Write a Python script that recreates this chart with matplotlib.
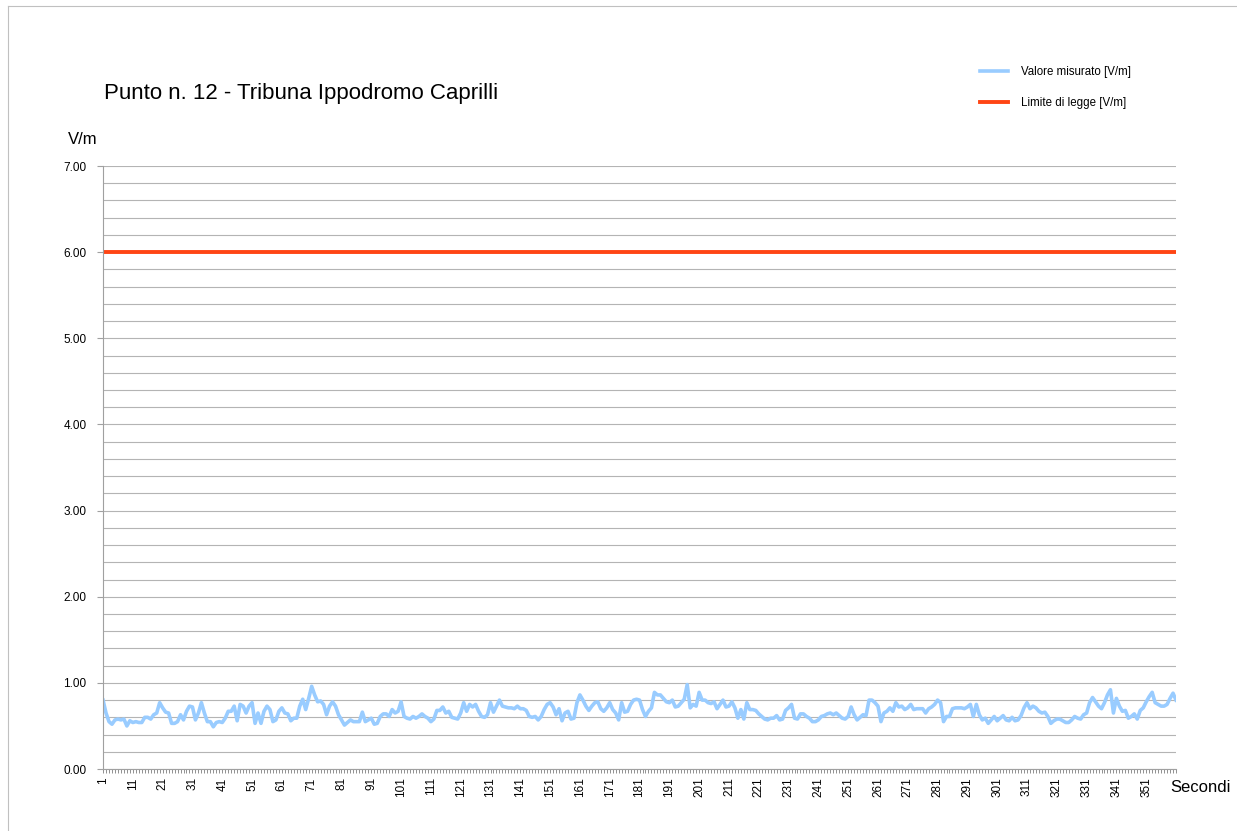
import numpy as np
import matplotlib
matplotlib.use("Agg")
import matplotlib.pyplot as plt
from matplotlib.lines import Line2D

plt.rcParams['font.family'] = ['Liberation Sans', 'DejaVu Sans']

title = "Punto n. 12 - Tribuna Ippodromo Caprilli"
label_misurato = "Valore misurato [V/m]"
label_limite = "Limite di legge [V/m]"
limite = 6.0

# valori, uno al secondo (1..361)
misurato = [
    0.80, 0.65, 0.55, 0.52, 0.57, 0.58, 0.57, 0.58, 0.50, 0.56,
    0.54, 0.55, 0.54, 0.54, 0.60, 0.60, 0.58, 0.63, 0.65, 0.77,
    0.71, 0.66, 0.65, 0.53, 0.53, 0.55, 0.63, 0.57, 0.67, 0.73,
    0.72, 0.57, 0.65, 0.77, 0.65, 0.55, 0.55, 0.49, 0.54, 0.55,
    0.54, 0.59, 0.67, 0.67, 0.73, 0.56, 0.75, 0.73, 0.65, 0.73,
    0.77, 0.53, 0.65, 0.53, 0.67, 0.73, 0.69, 0.55, 0.57, 0.67,
    0.71, 0.65, 0.64, 0.56, 0.59, 0.59, 0.73, 0.81, 0.69, 0.82,
    0.96, 0.86, 0.78, 0.79, 0.75, 0.63, 0.73, 0.78, 0.73, 0.63,
    0.57, 0.51, 0.54, 0.57, 0.55, 0.55, 0.55, 0.66, 0.55, 0.57,
    0.59, 0.52, 0.53, 0.61, 0.64, 0.64, 0.61, 0.69, 0.65, 0.67,
    0.78, 0.61, 0.59, 0.58, 0.61, 0.59, 0.61, 0.64, 0.61, 0.59,
    0.55, 0.58, 0.68, 0.68, 0.72, 0.65, 0.67, 0.60, 0.59, 0.58,
    0.65, 0.77, 0.67, 0.75, 0.72, 0.75, 0.67, 0.61, 0.60, 0.63,
    0.77, 0.66, 0.73, 0.80, 0.73, 0.72, 0.71, 0.71, 0.70, 0.73,
    0.70, 0.70, 0.68, 0.61, 0.60, 0.61, 0.57, 0.61, 0.69, 0.75,
    0.77, 0.72, 0.63, 0.70, 0.56, 0.65, 0.67, 0.58, 0.59, 0.77,
    0.86, 0.80, 0.73, 0.68, 0.73, 0.77, 0.78, 0.70, 0.67, 0.71,
    0.77, 0.69, 0.65, 0.57, 0.77, 0.66, 0.67, 0.75, 0.80, 0.81,
    0.80, 0.69, 0.61, 0.67, 0.71, 0.89, 0.86, 0.86, 0.82, 0.78,
    0.77, 0.80, 0.72, 0.73, 0.77, 0.81, 0.98, 0.71, 0.75, 0.73,
    0.89, 0.80, 0.80, 0.77, 0.76, 0.78, 0.70, 0.75, 0.80, 0.72,
    0.73, 0.78, 0.71, 0.59, 0.69, 0.58, 0.77, 0.69, 0.69, 0.68,
    0.64, 0.61, 0.58, 0.57, 0.59, 0.59, 0.62, 0.57, 0.58, 0.68,
    0.71, 0.75, 0.59, 0.58, 0.64, 0.64, 0.61, 0.59, 0.55, 0.55,
    0.57, 0.61, 0.62, 0.64, 0.65, 0.63, 0.65, 0.62, 0.59, 0.58,
    0.61, 0.72, 0.63, 0.57, 0.60, 0.63, 0.62, 0.80, 0.80, 0.77,
    0.73, 0.55, 0.65, 0.67, 0.71, 0.67, 0.77, 0.72, 0.73, 0.69,
    0.71, 0.75, 0.69, 0.70, 0.70, 0.70, 0.65, 0.70, 0.72, 0.75,
    0.80, 0.77, 0.55, 0.61, 0.61, 0.70, 0.71, 0.71, 0.71, 0.70,
    0.72, 0.75, 0.61, 0.75, 0.63, 0.57, 0.59, 0.53, 0.57, 0.61,
    0.56, 0.59, 0.62, 0.57, 0.56, 0.60, 0.56, 0.57, 0.62, 0.71,
    0.77, 0.70, 0.73, 0.71, 0.67, 0.65, 0.66, 0.61, 0.53, 0.56,
    0.58, 0.58, 0.56, 0.54, 0.54, 0.57, 0.61, 0.59, 0.58, 0.63,
    0.65, 0.77, 0.83, 0.78, 0.73, 0.70, 0.77, 0.86, 0.92, 0.65,
    0.82, 0.73, 0.67, 0.68, 0.59, 0.61, 0.64, 0.58, 0.68, 0.71,
    0.78, 0.84, 0.89, 0.77, 0.75, 0.73, 0.73, 0.75, 0.82, 0.88,
    0.80,
]
secondi = np.arange(1, len(misurato) + 1)

fig = plt.figure(figsize=(12.37, 8.31), dpi=100)
ax = fig.add_axes([0.0833, 0.0746, 0.8674, 0.7256])

ax.plot(secondi, misurato, color="#99ccff", lw=2.6, solid_joinstyle="round")
ax.plot(secondi, [limite] * len(secondi), color="#ff4514", lw=2.8)

ax.set_xlim(1, len(misurato))
ax.set_ylim(0, 7)

ax.set_yticks(np.arange(0, 7.01, 1.0))
ax.set_yticklabels([f"{v:.2f}" for v in np.arange(0, 7.01, 1.0)], fontsize=8.5)
ax.set_yticks(np.arange(0, 7.01, 0.2), minor=True)
ax.tick_params(axis="y", which="major", length=4, color="#a0a0a0", pad=8)
ax.tick_params(axis="y", which="minor", length=0)
ax.grid(axis="y", which="both", color="#b4b4b4", lw=0.8)
ax.set_axisbelow(True)

xt = np.arange(1, len(misurato), 10)
ax.set_xticks(xt)
ax.set_xticklabels([str(v) for v in xt], rotation=90, fontsize=8.5)
ax.set_xticks(secondi, minor=True)
ax.tick_params(axis="x", which="both", length=3, color="#808080", width=0.6, pad=3)

for s in ["top", "right"]:
    ax.spines[s].set_visible(False)
for s in ["left", "bottom"]:
    ax.spines[s].set_color("#a0a0a0")
    ax.spines[s].set_linewidth(0.8)

fig.text(104 / 1237, 1 - 93 / 831, title, fontsize=16, va="center", ha="left")
fig.text(68 / 1237, 1 - 139 / 831, "V/m", fontsize=12, va="center", ha="left")
fig.text(1170 / 1237, 1 - 788 / 831, "Secondi", fontsize=12, va="center", ha="left")

handles = [Line2D([], [], color="#99ccff", lw=2.6),
           Line2D([], [], color="#ff4514", lw=2.8)]
fig.legend(handles, [label_misurato, label_limite], loc="upper left",
           bbox_to_anchor=(970 / 1237, 1 - 56 / 831), frameon=False,
           fontsize=8.3, handlelength=2.4, labelspacing=1.6, handletextpad=1.1)

# cornice del grafico
fig.add_artist(Line2D([8 / 1237, 8 / 1237], [0, 1 - 6 / 831], color="#c0c0c0", lw=0.8))
fig.add_artist(Line2D([8 / 1237, 1], [1 - 6 / 831, 1 - 6 / 831], color="#c0c0c0", lw=0.8))

fig.savefig("out.png", dpi=100)
